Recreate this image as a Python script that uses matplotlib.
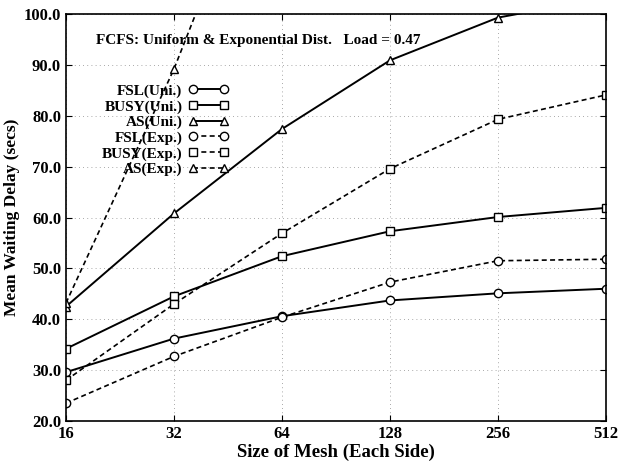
import numpy as np
import matplotlib
matplotlib.use("Agg")
import matplotlib.pyplot as plt

plt.rcParams['font.family'] = ['Liberation Serif', 'DejaVu Serif']
plt.rcParams['font.weight'] = 'bold'

mesh = [16, 32, 64, 128, 256, 512]

fsl_uni = [29.6, 36.2, 40.6, 43.7, 45.1, 46.0]
busy_uni = [34.2, 44.5, 52.4, 57.3, 60.1, 61.9]
as_uni = [42.5, 60.8, 77.4, 90.9, 99.3, 103.2]
fsl_exp = [23.5, 32.7, 40.4, 47.3, 51.5, 51.8]
busy_exp = [28.0, 43.0, 56.9, 69.6, 79.3, 84.1]
as_exp = [43.2, 89.2, 143.0, 190.0, 230.0, 260.0]

y_ticks = [20, 30, 40, 50, 60, 70, 80, 90, 100]

fig = plt.figure(figsize=(6.19, 4.63), dpi=100)
ax = fig.add_axes([0.1066, 0.0907, 0.8724, 0.879])

mk = dict(markersize=6, markerfacecolor='white', markeredgecolor='black', markeredgewidth=1.0)
ax.plot(mesh, fsl_uni, 'k-', marker='o', lw=1.4, label='FSL(Uni.)', **mk)
ax.plot(mesh, busy_uni, 'k-', marker='s', lw=1.4, label='BUSY(Uni.)', **mk)
ax.plot(mesh, as_uni, 'k-', marker='^', lw=1.4, label='AS(Uni.)', **mk)
ax.plot(mesh, fsl_exp, 'k--', marker='o', lw=1.2, dashes=(3, 2), label='FSL(Exp.)', **mk)
ax.plot(mesh, busy_exp, 'k--', marker='s', lw=1.2, dashes=(3, 2), label='BUSY(Exp.)', **mk)
ax.plot(mesh, as_exp, 'k--', marker='^', lw=1.2, dashes=(3, 2), label='AS(Exp.)', **mk)

ax.set_xscale('log', base=2)
ax.set_xlim(16, 512)
ax.set_ylim(20, 100)
ax.set_xticks(mesh)
ax.set_xticklabels([str(m) for m in mesh])
ax.minorticks_off()
ax.set_yticks(y_ticks)
ax.set_yticklabels(['%.1f' % v for v in y_ticks])
ax.tick_params(direction='in', top=True, right=True, labelsize=12, length=4)
ax.grid(True, color='0.55', linestyle=(0, (1, 4)), linewidth=0.6)
for s in ax.spines.values():
    s.set_linewidth(1.2)

ax.set_xlabel('Size of Mesh (Each Side)', fontsize=13.5, fontweight='bold', labelpad=1)
ax.set_ylabel('Mean Waiting Delay (secs)', fontsize=12.5, fontweight='bold', labelpad=3)

ax.text(0.055, 0.935, 'FCFS: Uniform & Exponential Dist.   Load = 0.47',
        transform=ax.transAxes, fontsize=11, fontweight='bold', va='center')

leg = ax.legend(loc='upper left', bbox_to_anchor=(0.041, 0.862), frameon=False,
                markerfirst=False, numpoints=2, handlelength=2.6, handletextpad=0.4,
                labelspacing=0.12, fontsize=11)
for t in leg.get_texts():
    t.set_ha('right')
leg._legend_box.align = 'right'

fig.savefig('out.png', dpi=100)
